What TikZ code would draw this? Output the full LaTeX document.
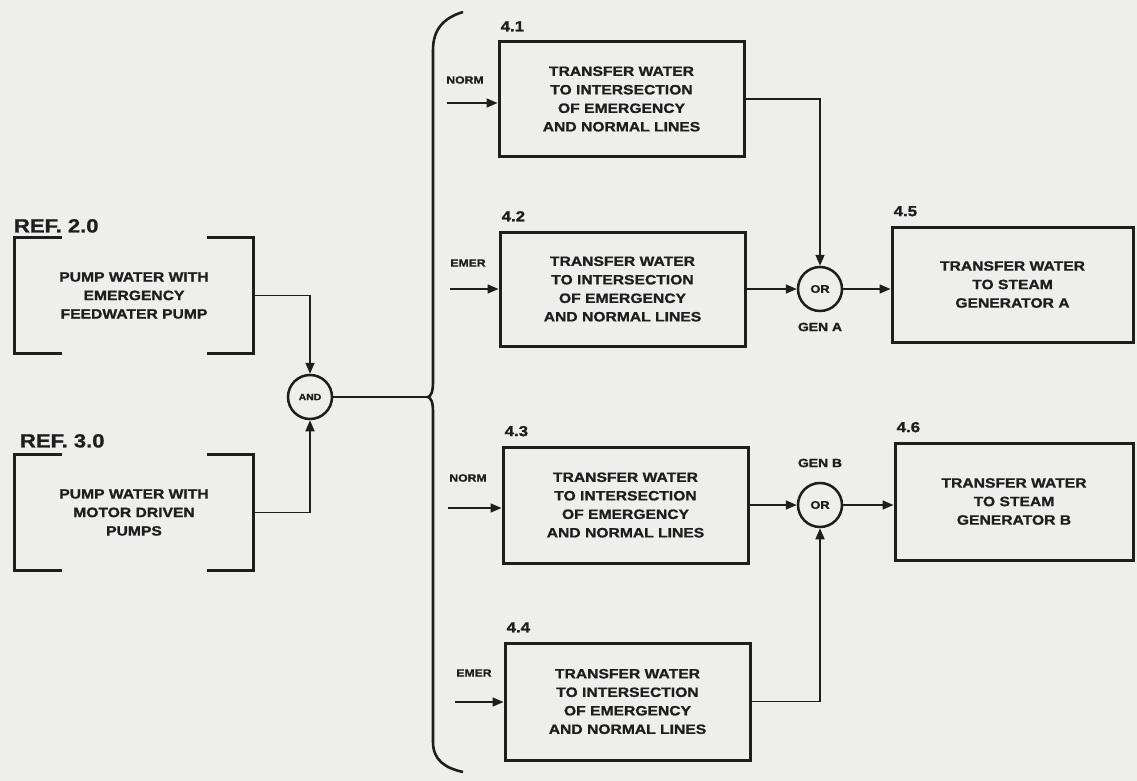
\documentclass[tikz,border=0pt]{standalone}
\usepackage{fontspec}
\setmainfont{Liberation Sans}
\newfontfamily\wide[FakeStretch=1.16,FakeBold=1.2]{Liberation Sans}
\usetikzlibrary{arrows.meta,calc}
\definecolor{paper}{RGB}{238,238,236}
\definecolor{ink}{RGB}{30,30,30}
\tikzset{
 blk/.style={draw=ink, line width=3pt, minimum width=245pt, minimum height=114pt, align=center, inner sep=0pt, font=\wide\bfseries\fontsize{13.5}{18.5}\selectfont, text=ink},
 refbox/.style={minimum width=238pt, minimum height=115pt, align=center, inner sep=0pt, font=\wide\bfseries\fontsize{13.5}{18.5}\selectfont, text=ink},
 brk/.style={draw=ink, line width=3pt},
 gate/.style={circle, draw=ink, line width=2.5pt, minimum size=44pt, inner sep=0pt, text=ink},
 conn/.style={draw=ink, line width=1.6pt},
 arr/.style={conn, -{Triangle[length=11pt,width=9pt]}},
 num/.style={font=\wide\bfseries\fontsize{14.5}{14.5}\selectfont, text=ink, inner sep=0pt, anchor=south west},
 reflab/.style={font=\wide\bfseries\fontsize{19}{19}\selectfont, text=ink, inner sep=0pt, anchor=south west},
 tag/.style={font=\wide\bfseries\fontsize{10.5}{10.5}\selectfont, text=ink, inner sep=0pt},
}
\begin{document}
\begin{tikzpicture}[x=1pt,y=-1pt]
\useasboundingbox (0,0) rectangle (1137,781);
\fill[paper] (0,0) rectangle (1137,781);

% reference brackets
\node[refbox] (ref2) at (134,295.5) {PUMP WATER WITH\\EMERGENCY\\FEEDWATER PUMP};
\node[refbox] (ref3) at (134,512.5) {PUMP WATER WITH\\MOTOR DRIVEN\\PUMPS};
\foreach \r in {ref2,ref3}{
  \draw[brk] ([xshift=47pt]\r.north west) -- (\r.north west) -- (\r.south west) -- ([xshift=47pt]\r.south west);
  \draw[brk] ([xshift=-46pt]\r.north east) -- (\r.north east) -- (\r.south east) -- ([xshift=-46pt]\r.south east);
}
\node[reflab] (l2) at ([xshift=-1pt,yshift=5pt]ref2.north west) {REF. 2.0};
\node[reflab] (l3) at ([xshift=5pt,yshift=7pt]ref3.north west) {REF. 3.0};

% AND gate
\node[gate, font=\wide\bfseries\fontsize{9}{9}\selectfont] (and) at (310,397) {AND};
\draw[arr] (ref2.east) -| (and.north);
\draw[arr] (ref3.east) -| (and.south);

% brace
\coordinate (bm) at (428,397);
\draw[brk, line width=2.6pt] (463,12) .. controls (443,18) and (433,30) .. (433,50) -- (433,382)
  .. controls (433,392) and (431,396) .. (bm)
  .. controls (431,398) and (433,402) .. (433,412) -- (433,742)
  .. controls (433,760) and (445,768) .. (463,772);
\draw[conn] (and.east) -- (bm);

% transfer boxes
\node[blk] (b41) at (621.5,99) {TRANSFER WATER\\TO INTERSECTION\\OF EMERGENCY\\AND NORMAL LINES};
\node[blk] (b42) at (622.5,289) {TRANSFER WATER\\TO INTERSECTION\\OF EMERGENCY\\AND NORMAL LINES};
\node[blk, minimum height=116pt] (b43) at (625.5,505) {TRANSFER WATER\\TO INTERSECTION\\OF EMERGENCY\\AND NORMAL LINES};
\node[blk, minimum height=117pt] (b44) at (627.5,701.5) {TRANSFER WATER\\TO INTERSECTION\\OF EMERGENCY\\AND NORMAL LINES};
\node[blk, minimum width=241pt, minimum height=115pt] (b45) at (1012.5,284.5) {TRANSFER WATER\\TO STEAM\\GENERATOR A};
\node[blk, minimum width=238pt, minimum height=117pt] (b46) at (1014,501.5) {TRANSFER WATER\\TO STEAM\\GENERATOR B};

\foreach \b/\t in {b41/4.1,b42/4.2,b43/4.3,b44/4.4,b45/4.5,b46/4.6}{
  \node[num] (n\b) at ([xshift=3pt,yshift=9pt]\b.north west) {\t};
}

% inputs
\coordinate (i1) at (447,103);
\coordinate (i2) at (450,289);
\coordinate (i3) at (448,508);
\coordinate (i4) at (455,702);
\draw[arr] (i1) -- (i1 -| b41.west);
\draw[arr] (i2) -- (i2 -| b42.west);
\draw[arr] (i3) -- (i3 -| b43.west);
\draw[arr] (i4) -- (i4 -| b44.west);
\node[tag] (t1) at (465,80) {NORM};
\node[tag] (t2) at (468,263) {EMER};
\node[tag] (t3) at (468,478) {NORM};
\node[tag] (t4) at (474,673) {EMER};

% OR gates
\node[gate, font=\wide\bfseries\fontsize{11}{11}\selectfont] (orA) at (820,289) {OR};
\node[gate, font=\wide\bfseries\fontsize{11}{11}\selectfont] (orB) at (820,505) {OR};
\node[tag, font=\wide\bfseries\fontsize{12}{12}\selectfont] (gA) at (820,327) {GEN A};
\node[tag, font=\wide\bfseries\fontsize{12}{12}\selectfont] (gB) at (820,463) {GEN B};

\draw[arr] (b41.east) -| (orA.north);
\draw[arr] (b42.east) -- (orA.west);
\draw[arr] (orA.east) -- (orA.east -| b45.west);
\draw[arr] (b43.east) -- (orB.west);
\draw[arr] (b44.east) -| (orB.south);
\draw[arr] (orB.east) -- (orB.east -| b46.west);
\end{tikzpicture}
\end{document}
